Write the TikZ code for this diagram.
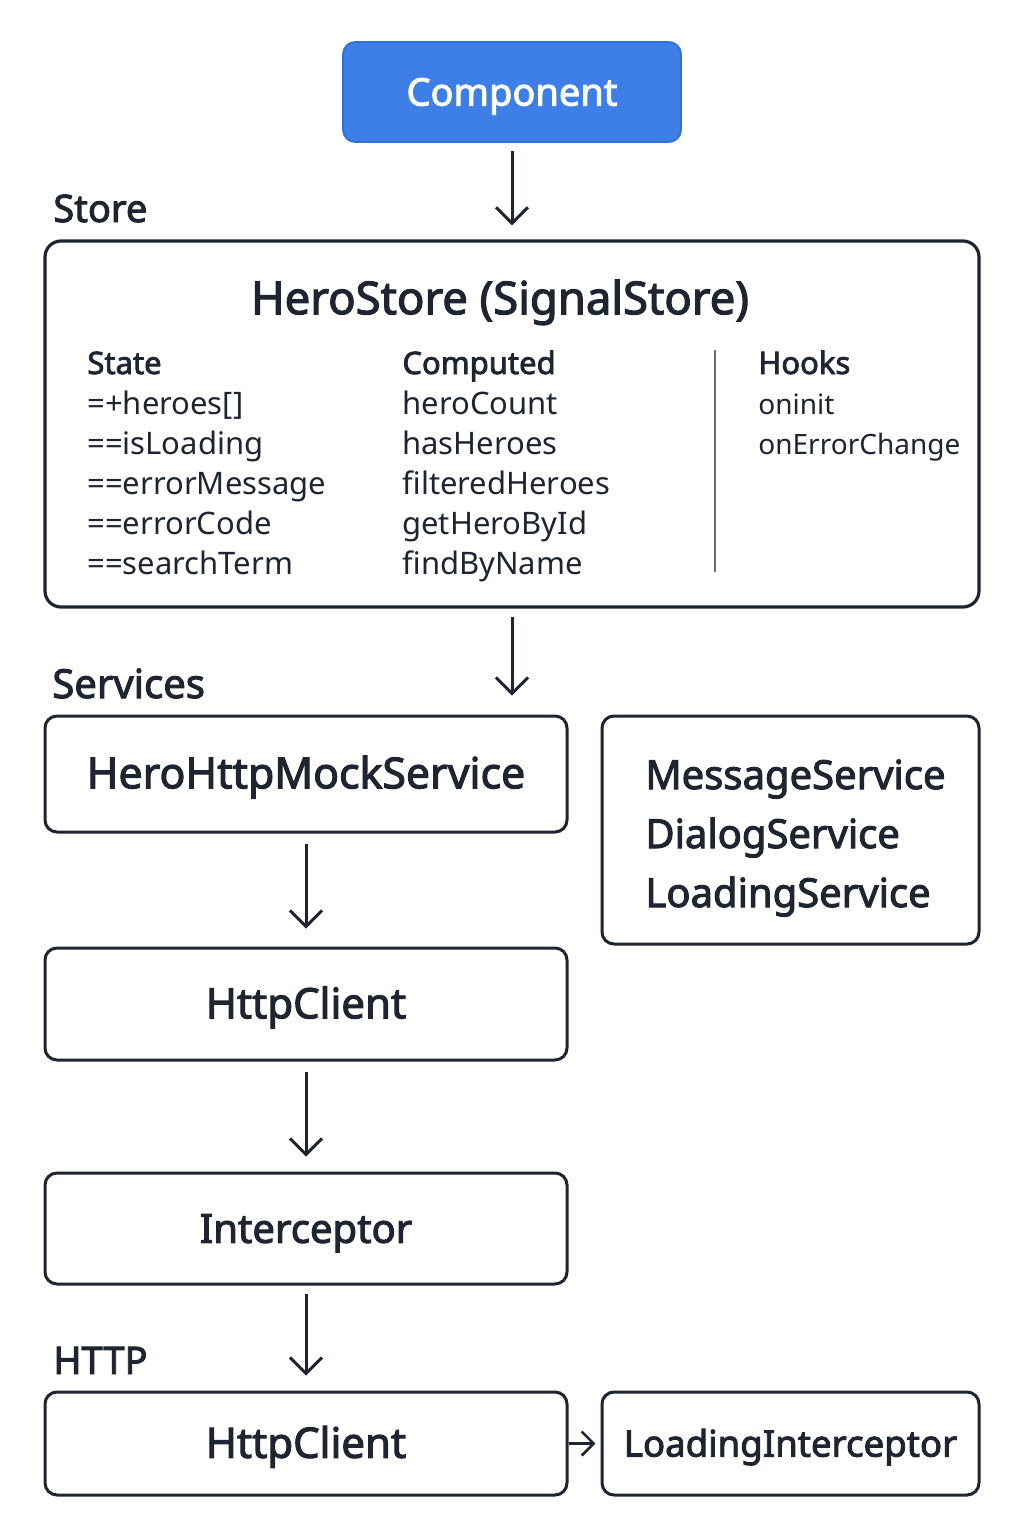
\documentclass[tikz,border=0pt]{standalone}
\usepackage{fontspec}
\setmainfont{Noto Sans}
\newfontfamily\medfont{Noto Sans}[FakeBold=2.5]
\usetikzlibrary{arrows.meta,positioning}

\definecolor{ink}{HTML}{1E2530}
\definecolor{compblue}{HTML}{3D7FE6}
\definecolor{compedge}{HTML}{2F6FD8}

\tikzset{
  box/.style={draw=ink, line width=1.5pt, rounded corners=6pt, fill=white},
  boxtext/.style={font=\medfont\fontsize{20}{24}\selectfont, text=ink, text height=14.3pt, text depth=0pt},
  layer/.style={font=\medfont\fontsize{19}{23}\selectfont, text=ink, inner sep=0pt, anchor=base west},
  head/.style={font=\medfont\fontsize{15.5}{18}\selectfont, text=ink, inner sep=0pt, anchor=base west},
  item/.style={font=\fontsize{15.5}{18}\selectfont, text=ink, inner sep=0pt, anchor=base west},
  arr/.style={draw=ink, line width=1.5pt, -{Straight Barb[length=8pt,width=16pt,line width=1.5pt]}}
}

\begin{document}
\begin{tikzpicture}[x=0.5pt,y=-0.5pt]

\useasboundingbox[fill=white] (0,0) rectangle (1024,1536);

% Nodes

\node[draw=compedge, fill=compblue, line width=0.8pt, rounded corners=6pt,
      minimum width=169pt, minimum height=50pt, text height=13.6pt, text depth=0pt,
      font=\medfont\fontsize{19}{23}\selectfont, text=white] (comp) at (512,92) {Component};

\node[layer] (storelbl) at (53,222) {Store};
\node[box, line width=1.6pt, rounded corners=8pt, minimum width=467pt, minimum height=183pt] (store) at (512,424) {};
\node[font=\medfont\fontsize{22.7}{26}\selectfont, text=ink, text height=16.2pt, text depth=0pt] (title) at (500,298) {HeroStore (SignalStore)};

\node[head] (state) at (87,374) {State};
\node[head] (computed) at (402,374) {Computed};
\node[head] (hooks) at (758,374) {Hooks};

\foreach \t [count=\i] in {{=+heroes[]},{==isLoading},{==errorMessage},{==errorCode},{==searchTerm}}
  \node[item] (s\i) at (87,374+40*\i) {\t};
\foreach \t [count=\i] in {heroCount,hasHeroes,filteredHeroes,getHeroById,findByName}
  \node[item] (c\i) at (402,374+40*\i) {\t};
\foreach \t [count=\i] in {oninit,onErrorChange}
  \node[item, font=\fontsize{14}{18}\selectfont] (h\i) at (758,374+40*\i) {\t};

\coordinate (divtop) at (715,350);
\coordinate (divbot) at (715,572);

\node[layer, font=\medfont\fontsize{20}{24}\selectfont] (servlbl) at (52,698) {Services};
\node[box, minimum width=261pt, minimum height=58pt, boxtext, font=\medfont\fontsize{21.4}{25}\selectfont] (mock) at (306,774) {HeroHttpMockService};
\node[box, minimum width=188.5pt, minimum height=114pt] (misc) at (790.5,830) {};
\foreach \t [count=\i] in {MessageService,DialogService,LoadingService}
  \node[boxtext, inner sep=0pt, anchor=base west, text height=, text depth=] (m\i) at (645,730+\i*59) {\t};

\node[box, minimum width=261pt, minimum height=56pt, boxtext, font=\medfont\fontsize{21}{25}\selectfont] (http) at (306,1004) {HttpClient};
\node[box, minimum width=261pt, minimum height=55.5pt, boxtext] (intc) at (306,1228.5) {Interceptor};

\node[layer] (httplbl) at (53,1374) {HTTP};
\node[box, minimum width=261pt, minimum height=51.5pt, boxtext, font=\medfont\fontsize{21}{25}\selectfont] (http2) at (306,1443.5) {HttpClient};
\node[box, minimum width=188.5pt, minimum height=51.5pt, boxtext, font=\medfont\fontsize{18.3}{22}\selectfont, text height=13.1pt] (load) at (790.5,1443.5) {LoadingInterceptor};

% Connect nodes
\draw[gray!80!ink, line width=0.6pt] (divtop) -- (divbot);

\draw[arr, shorten <=4pt, shorten >=7pt] (comp.south) -- (comp.south |- store.north);
\draw[arr, shorten <=4pt, shorten >=9.5pt] (store.south) -- (store.south |- mock.north);
\draw[arr, shorten <=5pt, shorten >=9pt] (mock.south) -- (http.north);
\draw[arr, shorten <=5pt, shorten >=7.5pt] (http.south) -- (intc.north);
\draw[arr, shorten <=4pt, shorten >=7.5pt] (intc.south) -- (http2.north);
\draw[draw=ink, line width=1.3pt, -{Straight Barb[length=6pt,width=12pt,line width=1.3pt]}, shorten >=2.5pt] (http2.east) -- (load.west);

\end{tikzpicture}
\end{document}
